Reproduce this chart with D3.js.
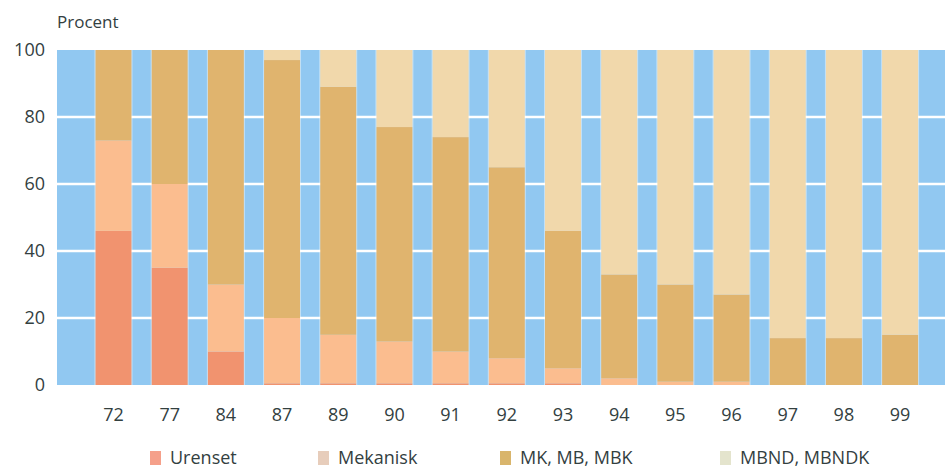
<!DOCTYPE html>
<html>
<head>
<meta charset="utf-8">
<script src="https://cdn.jsdelivr.net/npm/d3@7"></script>
<style>
  html, body { margin: 0; padding: 0; background: #ffffff; }
  svg { display: block; }
  text { font-family: "Open Sans", "Noto Sans", sans-serif; fill: #33403f; }
</style>
</head>
<body>
<svg id="chart" width="945" height="468"></svg>
<script>
// Treatment type shares (percent) per year
const years    = ["72","77","84","87","89","90","91","92","93","94","95","96","97","98","99"];
const urenset  = [46, 35, 10, 0.5, 0.5, 0.5, 0.5, 0.5, 0.5, 0, 0, 0, 0, 0, 0];
const mekanisk = [27, 25, 20, 19.5, 14.5, 12.5, 9.5, 7.5, 4.5, 2, 1, 1, 0, 0, 0];
const mkMbMbk  = [27, 40, 70, 77, 74, 64, 64, 57, 41, 31, 29, 26, 14, 14, 15];
const mbnd     = [0, 0, 0, 3, 11, 23, 26, 35, 54, 67, 70, 73, 86, 86, 85];
const seriesNames = ["Urenset", "Mekanisk", "MK, MB, MBK", "MBND, MBNDK"];
const yTicks = [0, 20, 40, 60, 80, 100];

const colors = ["#f1936f", "#fbbd8f", "#e0b46e", "#f1d8ab"];
const legendColors = ["#f5a08a", "#e7cdbb", "#d9b56c", "#e4e4cd"];

const svg = d3.select("#chart");
const plot = { left: 57, right: 945, top: 50, bottom: 385 };

const x = d3.scaleBand()
  .domain(years)
  .range([85.4, 928.2])
  .paddingInner(0.36)
  .paddingOuter(0.18);

const y = d3.scaleLinear()
  .domain([0, 100])
  .range([plot.bottom, plot.top]);

// Table for stacking
const table = years.map((yr, i) => ({
  year: yr,
  "Urenset": urenset[i],
  "Mekanisk": mekanisk[i],
  "MK, MB, MBK": mkMbMbk[i],
  "MBND, MBNDK": mbnd[i]
}));
const stacked = d3.stack().keys(seriesNames)(table);

// Blue plot background
svg.append("rect")
  .attr("x", plot.left).attr("y", y(100))
  .attr("width", plot.right - plot.left)
  .attr("height", y(0) - y(100))
  .attr("fill", "#91c8f1");

// White gridlines
svg.append("g")
  .selectAll("line")
  .data(yTicks.filter(d => d > 0 && d < 100))
  .join("line")
  .attr("x1", plot.left).attr("x2", plot.right)
  .attr("y1", d => y(d)).attr("y2", d => y(d))
  .attr("stroke", "#ffffff")
  .attr("stroke-width", 2.5);

// Pale halo behind each bar
svg.append("g")
  .selectAll("rect")
  .data(years)
  .join("rect")
  .attr("x", d => x(d) - 1)
  .attr("y", y(100))
  .attr("width", x.bandwidth() + 2)
  .attr("height", y(0) - y(100))
  .attr("fill", "#ffffff")
  .attr("opacity", 0.45);

// Stacked bars
svg.append("g")
  .selectAll("g")
  .data(stacked)
  .join("g")
  .attr("fill", (d, i) => colors[i])
  .selectAll("rect")
  .data(d => d)
  .join("rect")
  .attr("x", d => x(d.data.year))
  .attr("y", d => y(d[1]))
  .attr("width", x.bandwidth())
  .attr("height", d => Math.max(0, y(d[0]) - y(d[1])));

// Y axis
const yAxis = svg.append("g")
  .attr("transform", `translate(${plot.left},0)`)
  .call(d3.axisLeft(y).tickValues(yTicks).tickSize(0).tickPadding(12));
yAxis.select(".domain").remove();
yAxis.selectAll("text")
  .style("font-size", "18px")
  .style("font-family", "'Open Sans', 'Noto Sans', sans-serif")
  .attr("fill", "#33403f");

// X axis
const xAxis = svg.append("g")
  .attr("transform", `translate(0,${plot.bottom})`)
  .call(d3.axisBottom(x).tickSize(0).tickPadding(23));
xAxis.select(".domain").remove();
xAxis.selectAll("text")
  .style("font-size", "18px")
  .style("font-family", "'Open Sans', 'Noto Sans', sans-serif")
  .attr("fill", "#33403f");

// Unit label
svg.append("text")
  .attr("x", 57).attr("y", 28)
  .style("font-size", "17px")
  .text("Procent");

// Legend
const legendX = [150, 318, 500, 720];
const legend = svg.append("g")
  .selectAll("g")
  .data(seriesNames)
  .join("g")
  .attr("transform", (d, i) => `translate(${legendX[i]},0)`);
legend.append("rect")
  .attr("x", 0).attr("y", 451)
  .attr("width", 11).attr("height", 14)
  .attr("fill", (d, i) => legendColors[i]);
legend.append("text")
  .attr("x", 20).attr("y", 464)
  .style("font-size", "18px")
  .text(d => d);
</script>
</body>
</html>
